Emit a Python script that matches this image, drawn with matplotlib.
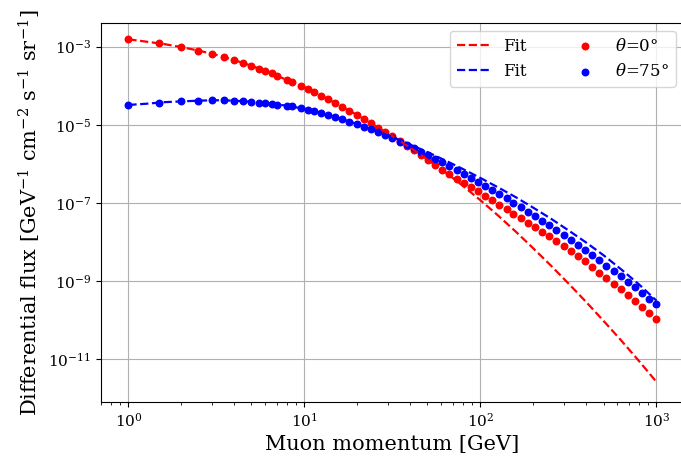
import numpy as np
import matplotlib
matplotlib.use("Agg")
import matplotlib.pyplot as plt

plt.rcParams['font.family'] = ['DejaVu Serif']
plt.rcParams['mathtext.fontset'] = 'dejavuserif'

# Muon momentum of data points [GeV]
momentum = [1, 1.5, 2, 2.5, 3, 3.5, 4, 4.5, 5, 5.5, 6, 6.5, 7, 8, 8.5, 9.5, 10.5,
            11.3, 12.4, 13.6, 15.0, 16.4, 18.0, 19.8, 21.7, 23.9, 26.2, 28.8, 31.6,
            34.7, 38.1, 41.8, 45.9, 50.4, 55.3, 60.7, 66.6, 73.1, 80.3, 88.2, 96.8,
            106, 117, 128, 141, 154, 169, 186, 204, 224, 246, 270, 297, 326, 357,
            392, 431, 473, 519, 570, 625, 687, 754, 827, 908, 1000]

# log10 of differential flux, theta = 0 deg
log_flux_0 = [-2.81, -2.91, -3.01, -3.10, -3.18, -3.26, -3.34, -3.42, -3.49, -3.56,
              -3.62, -3.68, -3.75, -3.86, -3.91, -4.00, -4.09,
              -4.16, -4.25, -4.34, -4.44, -4.54, -4.64, -4.74, -4.85, -4.96, -5.07,
              -5.18, -5.29, -5.41, -5.53, -5.65, -5.77, -5.90, -6.03, -6.16, -6.27,
              -6.38, -6.48, -6.59, -6.70, -6.82, -6.93, -7.04, -7.16, -7.27, -7.38,
              -7.50, -7.61, -7.73, -7.85, -7.97, -8.10, -8.23, -8.36, -8.49, -8.63,
              -8.78, -8.92, -9.07, -9.21, -9.36, -9.51, -9.66, -9.81, -9.96]

# log10 of differential flux, theta = 75 deg
log_flux_75 = [-4.49, -4.43, -4.40, -4.38, -4.37, -4.37, -4.38, -4.39, -4.41, -4.43,
               -4.44, -4.46, -4.48, -4.51, -4.53, -4.57, -4.61,
               -4.65, -4.70, -4.75, -4.80, -4.85, -4.92, -4.98, -5.05, -5.11, -5.19,
               -5.26, -5.34, -5.43, -5.51, -5.60, -5.69, -5.78, -5.87, -5.96, -6.06,
               -6.16, -6.25, -6.36, -6.46, -6.56, -6.67, -6.77, -6.88, -6.99, -7.10,
               -7.22, -7.33, -7.45, -7.57, -7.69, -7.82, -7.95, -8.07, -8.20, -8.34,
               -8.47, -8.60, -8.74, -8.88, -9.02, -9.16, -9.31, -9.45, -9.59]

# Fit curves
fit_momentum = [1, 1.259, 1.585, 1.995, 2.512, 3.162, 3.981, 5.012, 6.310, 7.943,
                10, 12.59, 15.85, 19.95, 25.12, 31.62, 39.81, 50.12, 63.10, 79.43,
                100, 125.9, 158.5, 199.5, 251.2, 316.2, 398.1, 501.2, 631.0, 794.3, 1000]
log_fit_0 = [-2.81, -2.87, -2.93, -3.01, -3.10, -3.21, -3.34, -3.49, -3.66, -3.85,
             -4.04, -4.26, -4.50, -4.75, -5.02, -5.29, -5.58, -5.89, -6.21, -6.56,
             -6.93, -7.32, -7.73, -8.16, -8.60, -9.06, -9.53, -10.02, -10.52, -11.04, -11.58]
log_fit_75 = [-4.49, -4.46, -4.42, -4.40, -4.38, -4.37, -4.38, -4.41, -4.45, -4.51,
              -4.59, -4.70, -4.83, -4.98, -5.15, -5.31, -5.50, -5.70, -5.91, -6.13,
              -6.36, -6.60, -6.85, -7.12, -7.40, -7.70, -8.01, -8.34, -8.70, -9.08, -9.50]

fig = plt.figure(figsize=(6.81, 4.58), dpi=100)
ax = fig.add_axes([0.148, 0.1216, 0.8566, 0.8288])

l0, = ax.plot(fit_momentum, 10 ** np.array(log_fit_0), '--', color='red', lw=1.6, zorder=3)
l75, = ax.plot(fit_momentum, 10 ** np.array(log_fit_75), '--', color='blue', lw=1.6, zorder=3)
s0 = ax.scatter(momentum, 10 ** np.array(log_flux_0), s=22, color='red', zorder=2)
s75 = ax.scatter(momentum, 10 ** np.array(log_flux_75), s=22, color='blue', zorder=2)

ax.set_xscale('log')
ax.set_yscale('log')
ax.set_xlim(10 ** -0.157, 10 ** 3.157)
ax.set_ylim(10 ** -12.10, 10 ** -2.386)
ax.grid(True, color='#b0b0b0', lw=0.8)
ax.tick_params(labelsize=11)
ax.spines['right'].set_visible(False)

ax.set_xlabel('Muon momentum [GeV]', fontsize=15)
ax.set_ylabel(r'Differential flux [GeV$^{-1}$ cm$^{-2}$ s$^{-1}$ sr$^{-1}$]', fontsize=15)

ax.legend([l0, l75, s0, s75], ['Fit', 'Fit', r'$\theta$=0°', r'$\theta$=75°'],
          ncol=2, loc='upper right', fontsize=12, columnspacing=2.5)

fig.savefig('out.png', dpi=100)
